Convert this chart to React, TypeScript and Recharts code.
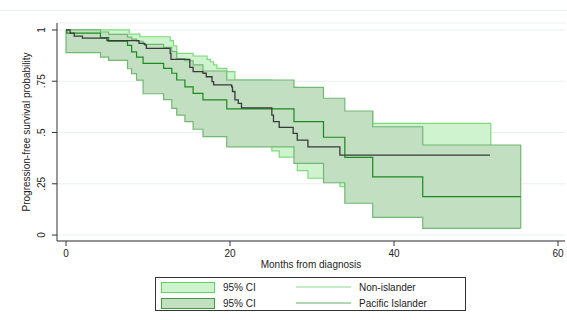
import { ComposedChart, Area, Line, XAxis, YAxis, CartesianGrid, Label } from 'recharts';

// Non-islander KM curve
const niTimes = [0, 0.5, 1.0, 2.0, 5.0, 8.9, 9.6, 9.8, 12.7, 12.8, 15.1, 15.5, 16.7, 17.1, 17.8, 18.0, 20.2, 20.3, 20.6, 21.0, 21.4, 25.1, 25.3, 26.0, 27.7, 28.2, 29.5, 33.4, 51.7];
const niSurv = [1.0, 0.985, 0.97, 0.96, 0.948, 0.935, 0.927, 0.91, 0.886, 0.857, 0.818, 0.797, 0.789, 0.772, 0.748, 0.732, 0.723, 0.7, 0.659, 0.642, 0.62, 0.585, 0.553, 0.525, 0.496, 0.463, 0.43, 0.39, 0.39];

// Non-islander 95% CI
const niCiTimes = [0, 0.5, 1.0, 2.0, 5.0, 7.7, 8.9, 9.0, 9.8, 12.7, 12.8, 13.1, 13.5, 15.1, 15.5, 16.7, 17.1, 17.2, 17.6, 17.8, 18.0, 18.4, 19.6, 20.2, 20.3, 20.6, 21.0, 21.4, 25.1, 26.0, 28.2, 29.5, 33.4, 37.4];
const niCiLow = [1.0, 0.93, 0.91, 0.9, 0.89, 0.89, 0.87, 0.87, 0.84, 0.8, 0.77, 0.77, 0.77, 0.72, 0.7, 0.69, 0.67, 0.67, 0.66, 0.64, 0.62, 0.62, 0.62, 0.61, 0.59, 0.545, 0.53, 0.5, 0.41, 0.38, 0.314, 0.277, 0.236, 0.2];
const niCiHigh = [1.0, 1.0, 1.0, 1.0, 1.0, 0.98, 0.98, 0.967, 0.967, 0.948, 0.948, 0.922, 0.886, 0.886, 0.873, 0.873, 0.873, 0.857, 0.845, 0.845, 0.83, 0.813, 0.797, 0.797, 0.797, 0.756, 0.756, 0.756, 0.74, 0.72, 0.7, 0.66, 0.6, 0.545];
const niCiEnd = 51.8;

// Pacific Islander KM curve
const piTimes = [0, 0.1, 4.2, 5.2, 7.5, 8.0, 8.6, 9.4, 11.9, 12.9, 13.5, 14.5, 15.5, 16.7, 19.6, 27.8, 31.4, 34.0, 37.4, 43.5, 55.45];
const piSurv = [1.0, 0.985, 0.963, 0.946, 0.925, 0.893, 0.868, 0.837, 0.813, 0.789, 0.756, 0.723, 0.691, 0.659, 0.615, 0.553, 0.477, 0.379, 0.284, 0.187, 0.187];

// Pacific Islander 95% CI
const piCiTimes = [0, 4.2, 5.2, 7.5, 8.0, 8.6, 9.4, 11.9, 12.9, 13.5, 14.5, 15.5, 16.7, 19.6, 27.8, 31.4, 34.0, 37.4, 43.5];
const piCiLow = [0.89, 0.868, 0.852, 0.811, 0.787, 0.755, 0.689, 0.66, 0.618, 0.585, 0.553, 0.516, 0.48, 0.43, 0.35, 0.255, 0.155, 0.086, 0.033];
const piCiHigh = [1.0, 0.99, 0.979, 0.965, 0.955, 0.945, 0.93, 0.915, 0.895, 0.86, 0.85, 0.83, 0.8, 0.756, 0.72, 0.667, 0.605, 0.528, 0.439];
const piCiEnd = 55.45;

const xTicks = [0, 20, 40, 60];
const yTicks = [0, 0.25, 0.5, 0.75, 1];
const yTickLabels = ['0', '.25', '.5', '.75', '1'];

const font = '"Liberation Sans", Arial, sans-serif';

function toLine(times: number[], vals: number[]) {
  return times.map((t, i) => ({ t, s: vals[i] }));
}

// band rows, closed at both ends so the stroke draws the vertical edges
function toBand(times: number[], lo: number[], hi: number[], end: number) {
  const rows = [{ t: times[0], ci: [hi[0], hi[0]] }];
  times.forEach((t, i) => rows.push({ t, ci: [lo[i], hi[i]] }));
  const n = times.length - 1;
  rows.push({ t: end, ci: [lo[n], hi[n]] });
  rows.push({ t: end, ci: [lo[n], lo[n]] });
  return rows;
}

const niLine = toLine(niTimes, niSurv);
const piLine = toLine(piTimes, piSurv);
const niBand = toBand(niCiTimes, niCiLow, niCiHigh, niCiEnd);
const piBand = toBand(piCiTimes, piCiLow, piCiHigh, piCiEnd);

function YTick({ x, y, payload }: any) {
  const i = yTicks.indexOf(payload.value);
  const bx = x - 5;
  return (
    <text x={bx} y={y} transform={`rotate(-90, ${bx}, ${y})`} textAnchor="middle" fontSize={10} fontFamily={font} fill="#222">
      {yTickLabels[i]}
    </text>
  );
}

function LegendRow({ fill, border, line, label }: { fill: string; border: string; line: string; label: string }) {
  return (
    <div style={{ display: 'flex', alignItems: 'center', height: 16 }}>
      <div style={{ width: 52, height: 9, background: fill, border: `1.5px solid ${border}`, marginLeft: 5 }} />
      <span style={{ marginLeft: 8, width: 73 }}>95% CI</span>
      <div style={{ width: 55, height: 1.5, background: line }} />
      <span style={{ marginLeft: 8 }}>{label}</span>
    </div>
  );
}

export default function App() {
  return (
    <div style={{ position: 'absolute', left: 0, top: 0, width: 567, height: 320, background: '#fff', fontFamily: font }}>
      <div style={{ position: 'absolute', left: 0, top: 10, width: 567, height: 1, background: '#e6efef' }} />
      <ComposedChart width={567} height={320} margin={{ top: 23, right: 2, left: 0, bottom: 0 }}>
        <CartesianGrid vertical={false} stroke="#e8f0f1" />
        <XAxis
          type="number"
          dataKey="t"
          domain={[-1.1, 60.85]}
          ticks={xTicks}
          height={79}
          tickSize={5}
          tickMargin={4}
          stroke="#333"
          tick={{ fontSize: 10, fontFamily: font, fill: '#222' }}
          allowDuplicatedCategory={false}
        >
          <Label value="Months from diagnosis" position="insideTop" offset={20} fontSize={10} fontFamily={font} fill="#222" />
        </XAxis>
        <YAxis
          type="number"
          domain={[-0.029, 1.034]}
          ticks={yTicks}
          width={57}
          tickSize={5}
          stroke="#333"
          tick={<YTick />}
        >
          <Label
            value="Progression-free survival probability"
            angle={-90}
            position="insideLeft"
            offset={26}
            style={{ textAnchor: 'middle' }}
            fontSize={10}
            fontFamily={font}
            fill="#222"
          />
        </YAxis>
        <Area
          data={niBand}
          dataKey="ci"
          type="stepAfter"
          fill="#cff2cf"
          fillOpacity={1}
          stroke="#7cdc7c"
          strokeWidth={1.2}
          dot={false}
          activeDot={false}
          isAnimationActive={false}
        />
        <Area
          data={piBand}
          dataKey="ci"
          type="stepAfter"
          fill="#c2dfc2"
          fillOpacity={1}
          stroke="#72b872"
          strokeWidth={1.2}
          dot={false}
          activeDot={false}
          isAnimationActive={false}
        />
        <Line data={piLine} dataKey="s" type="stepAfter" stroke="#1c8a1c" strokeWidth={1.2} dot={false} activeDot={false} isAnimationActive={false} />
        <Line data={niLine} dataKey="s" type="stepAfter" stroke="#3a3a3a" strokeWidth={1.3} dot={false} activeDot={false} isAnimationActive={false} />
      </ComposedChart>
      <div
        style={{
          position: 'absolute',
          left: 155,
          top: 277,
          width: 311,
          height: 34,
          border: '1px solid #333',
          boxSizing: 'border-box',
          fontSize: 10,
          color: '#222',
          paddingTop: 1,
        }}
      >
        <LegendRow fill="#cff2cf" border="#5ad65a" line="#c2eec2" label="Non-islander" />
        <LegendRow fill="#c2dfc2" border="#3f9a3f" line="#b0d8b0" label="Pacific Islander" />
      </div>
    </div>
  );
}
